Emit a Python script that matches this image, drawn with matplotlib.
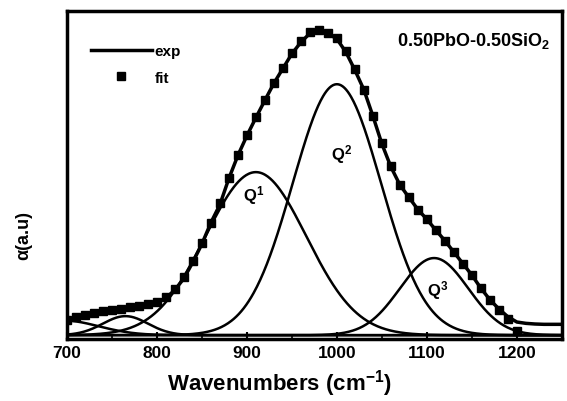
import numpy as np
import matplotlib.pyplot as plt

plt.rcParams['font.family'] = ['Liberation Sans', 'DejaVu Sans']
plt.rcParams['font.weight'] = 'bold'
plt.rcParams['axes.labelweight'] = 'bold'
plt.rcParams['mathtext.fontset'] = 'custom'
plt.rcParams['mathtext.rm'] = 'Liberation Sans:bold'
plt.rcParams['mathtext.bf'] = 'Liberation Sans:bold'
plt.rcParams['mathtext.it'] = 'Liberation Sans:bold'

# measured spectrum (every 10 cm-1)
wn_exp = np.arange(700, 1251, 10)
exp_vals = [0.055, 0.065, 0.074, 0.082, 0.087, 0.090, 0.094, 0.097, 0.101, 0.106,
            0.113, 0.125, 0.150, 0.185, 0.235, 0.290, 0.355, 0.410, 0.490, 0.560,
            0.620, 0.675, 0.728, 0.780, 0.825, 0.870, 0.905, 0.932, 0.940, 0.932,
            0.915, 0.875, 0.820, 0.760, 0.680, 0.595, 0.525, 0.470, 0.432, 0.395,
            0.365, 0.332, 0.300, 0.265, 0.230, 0.195, 0.155, 0.120, 0.092, 0.068,
            0.052, 0.048, 0.046, 0.045, 0.045, 0.045]

# fitted envelope (squares)
wn_fit = np.arange(700, 1201, 10)
fit_vals = [0.058, 0.066, 0.074, 0.081, 0.086, 0.090, 0.093, 0.097, 0.101, 0.106,
            0.113, 0.128, 0.152, 0.188, 0.238, 0.292, 0.355, 0.415, 0.492, 0.562,
            0.622, 0.677, 0.730, 0.782, 0.827, 0.872, 0.908, 0.935, 0.942, 0.934,
            0.917, 0.877, 0.822, 0.760, 0.680, 0.597, 0.527, 0.470, 0.432, 0.395,
            0.365, 0.332, 0.300, 0.265, 0.230, 0.195, 0.155, 0.118, 0.088, 0.060,
            0.026]

# gaussian band parameters: centre, height, width
centres = [695, 765, 910, 1000, 1108]
heights = [0.045, 0.058, 0.497, 0.765, 0.235]
widths = [40, 25, 56, 49, 38]
baseline = 0.012

fig, ax = plt.subplots(figsize=(5.67, 4.02), dpi=100)
fig.subplots_adjust(left=0.118, right=0.991, top=0.970, bottom=0.154)

xx = np.linspace(700, 1250, 600)
for c, h, w in zip(centres, heights, widths):
    ax.plot(xx, baseline + h * np.exp(-(xx - c) ** 2 / (2 * w ** 2)), color='black', lw=1.8)

ax.plot(wn_exp, exp_vals, color='black', lw=2.5, label='exp')
ax.plot(wn_fit, fit_vals, 's', color='black', ms=5.5, label='fit')

ax.text(908, 0.44, 'Q$^{1}$', fontsize=12, ha='center', va='center')
ax.text(1005, 0.565, 'Q$^{2}$', fontsize=12, ha='center', va='center')
ax.text(1112, 0.15, 'Q$^{3}$', fontsize=12, ha='center', va='center')
ax.text(1152, 0.912, '0.50PbO-0.50SiO$_{2}$', fontsize=13, ha='center', va='center')

ax.set_xlim(700, 1250)
ax.set_ylim(0, 1)
ax.set_xticks([700, 800, 900, 1000, 1100, 1200])
ax.set_xticks(np.arange(750, 1250, 100), minor=True)
ax.set_yticks([])
ax.tick_params(axis='x', direction='in', length=5, width=1.5, labelsize=12.5, pad=4)
ax.tick_params(axis='x', which='minor', direction='in', length=3, width=1.2)
for lab in ax.get_xticklabels():
    lab.set_fontweight('bold')
for s in ax.spines.values():
    s.set_linewidth(2.5)

ax.set_xlabel('Wavenumbers (cm$^{-1}$)', fontsize=16, fontweight='bold')
ax.xaxis.set_label_coords(0.43, -0.085)
ax.set_ylabel('\u03b1(a.u)', fontsize=13, fontweight='bold')
ax.yaxis.set_label_coords(-0.07, 0.32)

ax.legend(loc='upper left', bbox_to_anchor=(0.02, 0.94), frameon=False, handlelength=4,
          labelspacing=0.8, handletextpad=0.2, prop={'weight': 'bold', 'size': 11})

fig.savefig('out.png', dpi=100)
